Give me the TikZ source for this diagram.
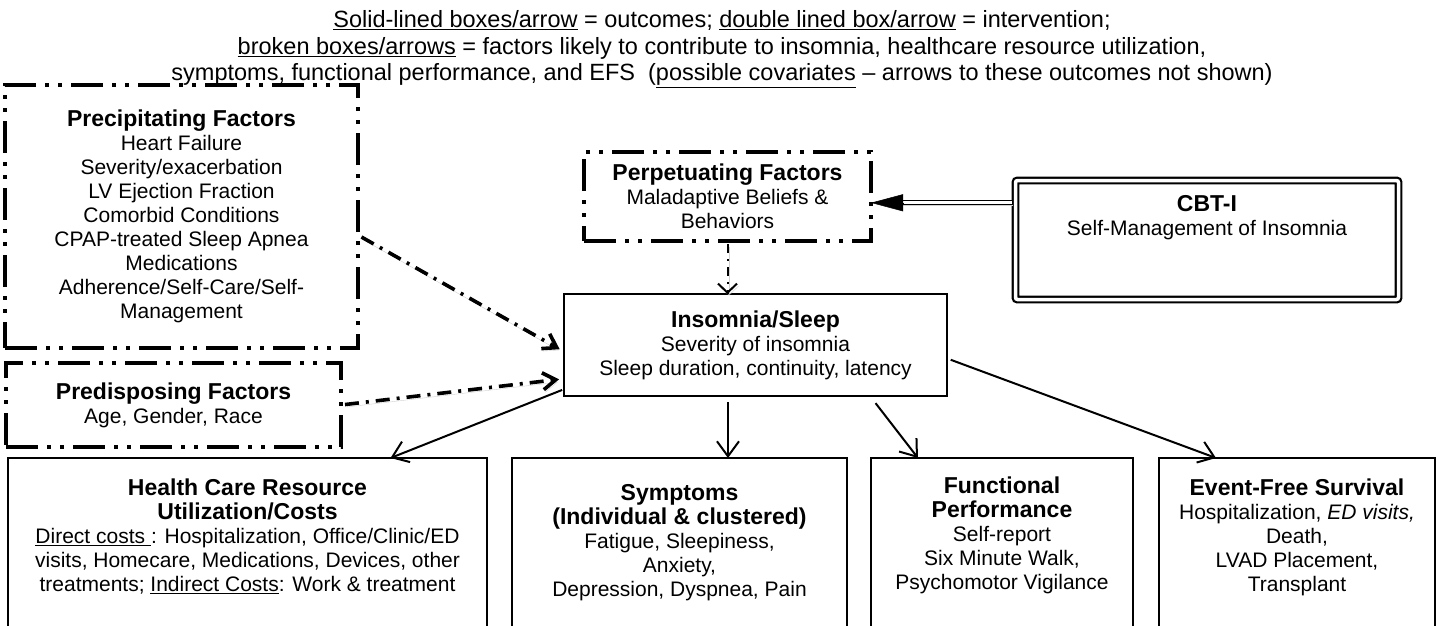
\documentclass[tikz,border=0pt]{standalone}
\usepackage{fontspec}
\setmainfont{Liberation Sans}
\usetikzlibrary{positioning,calc,arrows.meta}
\def\BoxFont{\fontsize{21}{24}\selectfont}
\def\KeyFont{\fontsize{23.5}{26.5}\selectfont}
\newcommand{\ttl}[1]{{\fontsize{23}{24}\selectfont\bfseries #1}}
\tikzset{
  outbox/.style={draw, line width=2.2pt, rectangle, outer sep=0pt, inner sep=0pt},
  factbox/.style={draw, line width=3.6pt, rectangle, outer sep=0pt, inner sep=0pt,
    dash pattern=on 32pt off 9pt on 4pt off 9pt on 4pt off 9pt,
    align=center, font=\BoxFont},
  cbtbox/.style={draw, line width=2.2pt, double, double distance=3.5pt,
    rounded corners=2pt, rectangle, outer sep=0pt, inner sep=0pt},
  txt/.style={align=center, font=\BoxFont, inner sep=0pt},
  legend/.style={anchor=north, align=center, inner sep=0pt, font=\KeyFont},
  shade/.style={preaction={draw=black!18, transform canvas={shift={(1.5pt,-2.5pt)}}}},
  arr/.style={line width=2pt, -{Straight Barb[length=15pt,width=22pt]}},
  factarr/.style={shade, line width=3.6pt, dash pattern=on 14pt off 7pt on 3pt off 7pt,
    -{Straight Barb[length=13pt,width=17pt]}, shorten >=5pt, shorten <=4pt},
  dotarr/.style={shade, line width=2pt, dash pattern=on 9pt off 6pt on 2pt off 6pt,
    -{Straight Barb[length=9pt,width=19pt]}},
  dblarr/.style={line width=1.3pt, double, double distance=2.6pt}
}
\begin{document}
\begin{tikzpicture}[x=1pt,y=-1pt]
  \useasboundingbox (0,0) rectangle (1452,625);
  % key
  \node[legend] (key) at (722,10.5) {\underline{Solid-lined boxes/arrow} = outcomes; \underline{double lined box/arrow} = intervention;\\
    \underline{broken boxes/arrows} = factors likely to contribute to insomnia, healthcare resource utilization,\\
    symptoms, functional performance, and EFS\ \ (\underline{possible covariates} -- arrows to these outcomes not shown)};
  % broken boxes
  \node[factbox, minimum width=353pt, minimum height=263pt] (prec) at (181.5,216.5) {\ttl{Precipitating Factors}\\
    Heart Failure\\Severity/exacerbation\\LV Ejection Fraction\\Comorbid Conditions\\
    CPAP-treated Sleep Apnea\\Medications\\Adherence/Self-Care/Self-\\Management};
  \node[factbox, minimum width=335pt, minimum height=84pt] (pred) at (173.5,405) {\ttl{Predisposing Factors}\\Age, Gender, Race};
  \node[factbox, minimum width=287pt, minimum height=89pt] (perp) at (727.5,196.5) {\ttl{Perpetuating Factors}\\Maladaptive Beliefs \&\\Behaviors};
  % insomnia
  \node[outbox, align=center, font=\BoxFont, minimum width=383pt, minimum height=102pt] (ins) at (755.5,345) {\ttl{Insomnia/Sleep}\\Severity of insomnia\\Sleep duration, continuity, latency};
  % intervention
  \node[cbtbox, minimum width=383pt, minimum height=119pt] (cbt) at (1207,240) {};
  \node[txt, below=14.5pt of cbt.north] (cbtT) {\ttl{CBT-I}\\Self-Management of Insomnia};
  % outcome boxes
  \node[outbox, minimum width=479pt, minimum height=240pt, anchor=north] (hcru) at (247.5,458) {};
  \node[outbox, minimum width=335pt, minimum height=240pt, anchor=north] (sym) at (679.5,458) {};
  \node[outbox, minimum width=262pt, minimum height=240pt, anchor=north] (func) at (1002,458) {};
  \node[outbox, minimum width=276pt, minimum height=240pt, anchor=north] (efs) at (1297,458) {};
  \node[txt, below=21pt of hcru.north] (hcruT) {\ttl{Health Care Resource}\\\ttl{Utilization/Costs}\\
    \underline{Direct costs\ }: Hospitalization, Office/Clinic/ED\\visits, Homecare, Medications, Devices, other\\
    treatments; \underline{Indirect Costs}: Work \& treatment};
  \node[txt, below=26pt of sym.north] (symT) {\ttl{Symptoms}\\\ttl{(Individual \& clustered)}\\
    Fatigue, Sleepiness,\\Anxiety,\\Depression, Dyspnea, Pain};
  \node[txt, below=19pt of func.north] (funcT) {\ttl{Functional}\\\ttl{Performance}\\
    Self-report\\Six Minute Walk,\\Psychomotor Vigilance};
  \node[txt, below=21pt of efs.north] (efsT) {\ttl{Event-Free Survival}\\Hospitalization, \textit{ED visits,}\\
    Death,\\LVAD Placement,\\Transplant};
  % connectors
  \draw[dblarr, shade, shorten >=30pt, shorten <=4pt] (cbt.169) -- (cbt.169 -| perp.east);
  \draw[-{Triangle[length=32pt,width=17pt]}, line width=0.5pt, shorten <=112pt] (cbt.169) -- (cbt.169 -| perp.east);
  \draw[dotarr, shorten <=3pt] (perp.south) -- (perp.south |- ins.north);
  \draw[factarr] (prec.-6) -- (ins.182);
  \draw[factarr] (pred.east) -- (ins.190);
  \draw[arr, shorten <=2pt] (ins.193) -- (hcru.40);
  \draw[arr, shorten <=6pt] (sym.68 |- ins.south) -- (sym.68);
  \draw[arr, shorten <=9pt] (ins.-24) -- (func.125);
  \draw[arr, shorten <=4pt] (ins.-4) -- (efs.124);
\end{tikzpicture}
\end{document}
